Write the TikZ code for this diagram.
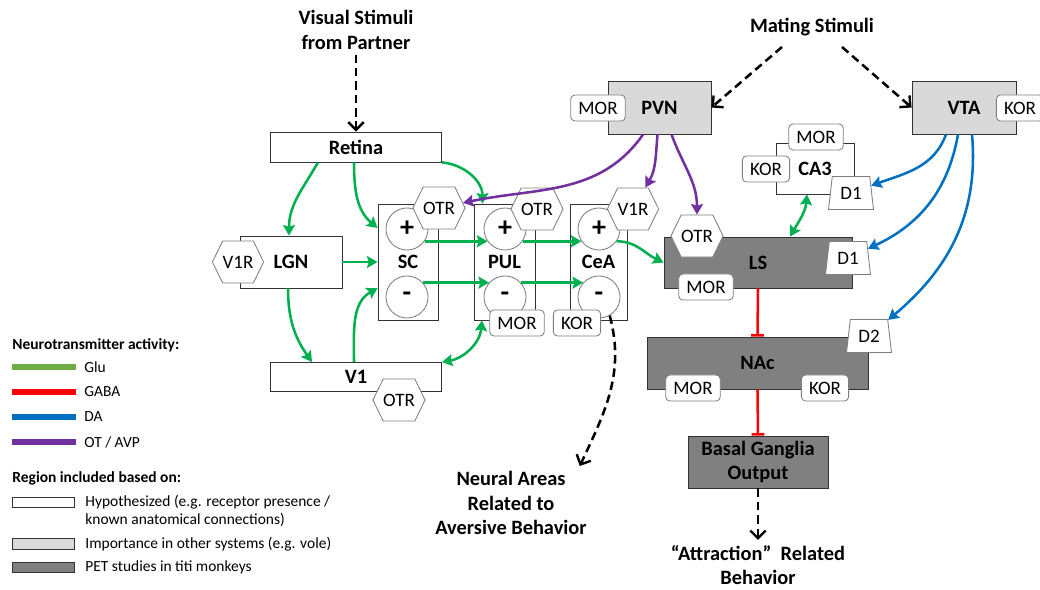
\documentclass[tikz,border=0pt]{standalone}
\usepackage{fontspec}
\setmainfont{Carlito}
\usetikzlibrary{arrows,arrows.meta,shapes.geometric,shapes.symbols}

\definecolor{glugreen}{HTML}{00B050}
\definecolor{glulegend}{HTML}{70AD47}
\definecolor{dablue}{HTML}{0070C0}
\definecolor{otpurple}{HTML}{7030A0}
\definecolor{lightbox}{HTML}{D9D9D9}
\definecolor{darkbox}{HTML}{808080}
\definecolor{edgegray}{HTML}{7F7F7F}

\begin{document}
\begin{tikzpicture}[x=0.025cm,y=-0.025cm,>={Stealth[length=7.5pt,width=8.5pt,inset=1.2pt]},semithick]
  \tikzstyle{region}=[draw=black!80,line width=0.6pt,inner sep=0pt,align=center,
                      font=\fontsize{14.5}{17.5}\selectfont\bfseries]
  \tikzstyle{hyp}=[region,fill=white]
  \tikzstyle{vole}=[region,fill=lightbox]
  \tikzstyle{pet}=[region,fill=darkbox]
  \tikzstyle{pole}=[circle,draw=edgegray,fill=white,line width=0.6pt,minimum size=1.05cm,
                    inner sep=0pt,font=\fontsize{20}{20}\selectfont\bfseries]
  \tikzstyle{hex}=[signal,signal to=east and west,signal pointer angle=128,
                   minimum width=1.1cm,minimum height=1.05cm,inner sep=0pt,
                   draw=edgegray,fill=white,line width=0.6pt,font=\fontsize{13.5}{13.5}\selectfont]
  \tikzstyle{badge}=[rectangle,rounded corners=3pt,draw=edgegray,fill=white,line width=0.6pt,
                     minimum height=0.65cm,inner xsep=5.5pt,inner ysep=0pt,font=\fontsize{13.5}{13.5}\selectfont]
  \tikzstyle{dr}=[trapezium,trapezium left angle=80,trapezium right angle=80,trapezium stretches=true,
                  minimum width=1.125cm,minimum height=0.825cm,inner sep=0pt,
                  draw=edgegray,fill=white,line width=0.6pt,font=\fontsize{13.5}{13.5}\selectfont]
  \tikzstyle{stimtext}=[align=center,font=\fontsize{14.5}{17.5}\selectfont\bfseries]
  \tikzstyle{legtitle}=[anchor=west,inner sep=0pt,font=\fontsize{11}{13}\selectfont\bfseries]
  \tikzstyle{legtext}=[anchor=west,inner sep=0pt,align=left,font=\fontsize{11}{12.8}\selectfont]
  \tikzstyle{legline}=[line width=3.6pt]
  \tikzstyle{legbox}=[draw=black!80,line width=0.6pt]
  \tikzstyle{glu}=[->,draw=glugreen,line width=1.8pt]
  \tikzstyle{gaba}=[-{Bar[width=9pt]},draw=red,line width=1.8pt]
  \tikzstyle{da}=[->,draw=dablue,line width=1.8pt]
  \tikzstyle{ot}=[->,draw=otpurple,line width=1.8pt]
  \tikzstyle{stim}=[-{Straight Barb[length=5.5pt,width=11pt,line width=1.7pt]},
                    line width=1.8pt,dash pattern=on 6pt off 3.5pt]

  \useasboundingbox (0,0) rectangle (1040,590);

  % inputs
  \node[stimtext] (Vis) at (356,30) {Visual Stimuli\\from Partner};
  \node[stimtext] (Mat) at (812,27) {Mating Stimuli};

  % regions
  \node[hyp,minimum width=4.275cm,minimum height=0.75cm]  (Ret) at (356,147)   {Retina};
  \node[hyp,minimum width=2.55cm,minimum height=1.3cm]    (LGN) at (291,262)   {LGN};
  \node[hyp,minimum width=4.275cm,minimum height=0.725cm] (V1)  at (356,377)   {V1};
  \node[hyp,minimum width=1.5cm,minimum height=2.9cm]     (SC)  at (408,262)   {SC};
  \node[hyp,minimum width=1.525cm,minimum height=2.9cm]   (PUL) at (504.5,262) {PUL};
  \node[hyp,minimum width=1.425cm,minimum height=2.9cm]   (CeA) at (598.5,262) {CeA};
  \node[vole,minimum width=2.575cm,minimum height=1.325cm] (PVN) at (659.5,107.5) {PVN};
  \node[vole,minimum width=2.6cm,minimum height=1.325cm]   (VTA) at (964,107.5)   {VTA};
  \node[hyp,minimum width=1.95cm,minimum height=1.275cm]  (CA3) at (815,168.5) {CA3};
  \node[pet,minimum width=4.7cm,minimum height=1.275cm]   (LS)  at (758,262.5) {LS};
  \node[pet,minimum width=5.525cm,minimum height=1.3cm]   (NAc) at (757.5,363) {NAc};
  \node[pet,minimum width=3.5cm,minimum height=1.3cm]     (BG)  at (758,462)   {Basal Ganglia\\Output};

  % excitatory / inhibitory parts
  \node[pole] (SCp)  at (407,229) {+};
  \node[pole] (SCm)  at (407,297) {-};
  \node[pole] (PULp) at (505,229) {+};
  \node[pole] (PULm) at (505,297) {-};
  \node[pole] (CeAp) at (599,229) {+};
  \node[pole] (CeAm) at (599,297) {-};

  % receptors
  \node[hex] (LGNv1r) at (238,262) {V1R};
  \node[hex] (SCotr)  at (439,208) {OTR};
  \node[hex] (PULotr) at (537,209) {OTR};
  \node[hex] (CeAv1r) at (633,209) {V1R};
  \node[hex] (V1otr)  at (399,400) {OTR};
  \node[hex] (LSotr)  at (697,236) {OTR};

  \node[badge] (PULmor) at (517,323)  {MOR};
  \node[badge] (CeAkor) at (577,323)  {KOR};
  \node[badge] (PVNmor) at (598,108)  {MOR};
  \node[badge] (VTAkor) at (1020,108) {KOR};
  \node[badge] (CA3mor) at (816,137)  {MOR};
  \node[badge] (CA3kor) at (766,169)  {KOR};
  \node[badge] (LSmor)  at (706,287)  {MOR};
  \node[badge] (NAcmor) at (693,388)  {MOR};
  \node[badge] (NAckor) at (825,388)  {KOR};

  \node[dr] (CA3d1) at (851,193) {D1};
  \node[dr] (LSd1)  at (848,258) {D1};
  \node[dr] (NAcd2) at (869,336) {D2};

  % outputs
  \node[stimtext] (Neu) at (511,503) {Neural Areas\\Related to\\Aversive Behavior};
  \node[stimtext] (Att) at (758,565) {“Attraction”\ \ Related\\Behavior};

  % stimuli
  \draw[stim] (Vis) -- (Ret);
  \draw[stim] ([xshift=-0.75cm,yshift=-0.15cm]Mat.south) -- (PVN.east);
  \draw[stim] ([xshift=0.75cm,yshift=-0.15cm]Mat.south) -- (VTA.west);
  \draw[stim] (CeAm.-60) to[out=-75,in=65] ([xshift=-0.3cm]Neu.north east);
  \draw[stim] (BG) -- (Att);

  % glutamate
  \draw[glu] ([xshift=-0.95cm]Ret.south) to[out=-120,in=90] ([xshift=-0.05cm]LGN.north);
  \draw[glu] ([xshift=-0.05cm]Ret.south) to[out=-90,in=140] ([yshift=0.85cm]SC.west);
  \draw[glu] (Ret.south east) to[out=-5,in=90] ([xshift=-0.55cm]PUL.north);
  \draw[glu] (LGN) -- (SC);
  \draw[glu] ([xshift=-0.075cm]LGN.south) to[out=-90,in=125] ([xshift=-1.1cm]V1.north);
  \draw[glu] ([xshift=-0.05cm]V1.north) to[out=90,in=210] ([yshift=-0.65cm]SC.west);
  \draw[glu,<->] (V1.north east) to[out=10,in=-95] ([xshift=-0.5625cm]PUL.south);
  \draw[glu] (SCp.-35) -- (PULp.215);
  \draw[glu] (PULp.-35) -- (CeAp.215);
  \draw[glu] (CeAp.-35) to[out=0,in=155] (LS.west);
  \draw[glu] (SCm.42) -- (PULm.138);
  \draw[glu] (PULm.42) -- (CeAm.138);
  \draw[glu,<->] ([xshift=-0.2cm]CA3.south) to[out=-95,in=60] ([xshift=0.8cm]LS.north);

  % oxytocin / vasopressin
  \draw[ot] ([xshift=-0.41cm]PVN.south) to[out=-125,in=12] (SCotr);
  \draw[ot] ([xshift=-0.05cm]PVN.south) to[out=-95,in=60] (CeAv1r);
  \draw[ot] ([xshift=0.3cm]PVN.south) to[out=-70,in=90] (LSotr);

  % dopamine
  \draw[da] ([xshift=-0.45cm]VTA.south) to[out=-110,in=20] (CA3d1);
  \draw[da] ([xshift=-0.15cm]VTA.south) to[out=-100,in=25] (LSd1);
  \draw[da] ([xshift=0.2cm]VTA.south) to[out=-85,in=40] (NAcd2);

  % GABA
  \draw[gaba] (LS.south) -- (NAc.north);
  \draw[gaba] (NAc.south) -- (BG.north);

  % legend
  \node[legtitle] (LegNT) at (12,345) {Neurotransmitter activity:};
  \draw[legline,glulegend] (12,367) -- (76,367);
  \node[legtext] (LegGlu) at (84,367) {Glu};
  \draw[legline,red] (12,392) -- (76,392);
  \node[legtext] (LegGaba) at (84,392) {GABA};
  \draw[legline,dablue] (12,417) -- (76,417);
  \node[legtext] (LegDa) at (84,417) {DA};
  \draw[legline,otpurple] (12,442) -- (76,442);
  \node[legtext] (LegOt) at (84,442) {OT / AVP};

  \node[legtitle] (LegReg) at (12,478) {Region included based on:};
  \draw[legbox,fill=white] (12,497) rectangle (74,507);
  \node[legtext] (LegHyp) at (85,511) {Hypothesized (e.g. receptor presence /\\known anatomical connections)};
  \draw[legbox,fill=lightbox] (12,538) rectangle (74,549);
  \node[legtext] (LegVole) at (85,544) {Importance in other systems (e.g. vole)};
  \draw[legbox,fill=darkbox] (12,562) rectangle (74,572);
  \node[legtext] (LegPet) at (85,567) {PET studies in titi monkeys};
\end{tikzpicture}
\end{document}
